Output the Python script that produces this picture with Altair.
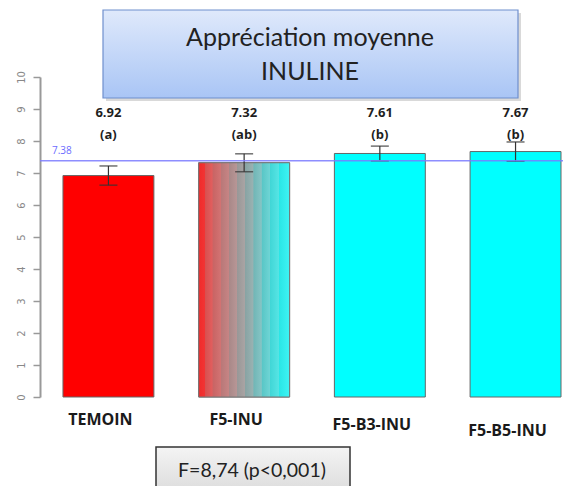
import altair as alt
import pandas as pd

categories = ["TEMOIN", "F5-INU", "F5-B3-INU", "F5-B5-INU"]
means = [6.92, 7.32, 7.61, 7.67]
errors = [0.30, 0.28, 0.23, 0.30]
letters = ["(a)", "(ab)", "(b)", "(b)"]
y_ticks = [0, 1, 2, 3, 4, 5, 6, 7, 8, 9, 10]
grand_mean = 7.38
title_lines = ["Appréciation moyenne", "INULINE"]
stat_text = "F=8,74 (p<0,001)"

df = pd.DataFrame({
    "cat": categories,
    "mean": means,
    "low": [m - e for m, e in zip(means, errors)],
    "high": [m + e for m, e in zip(means, errors)],
    "val": [f"{m:.2f}" for m in means],
    "letter": letters,
})

W, H = 523, 320

xscale = alt.Scale(domain=categories, paddingInner=0.33, paddingOuter=0.092, align=0.92)
yscale = alt.Scale(domain=[0, 10], nice=False, zero=True)

x_axis = alt.Axis(
    title=None, domain=False, ticks=False, labelAngle=0,
    labelFont="Open Sans", labelFontWeight="bold", labelFontSize=16, labelColor="#1a1a1a",
    labelBaseline="top", labelOffset=-8,
    labelPadding={"condition": [
        {"test": "datum.value == 'F5-B5-INU'", "value": 25},
        {"test": "datum.value == 'F5-B3-INU'", "value": 19},
    ], "value": 14},
)
x_enc = alt.X("cat:N", scale=xscale, sort=categories, axis=x_axis)
y_axis = alt.Axis(
    title=None, values=y_ticks, tickCount=11, grid=False, tickSize=7, tickColor="#999999",
    tickWidth=1.5, domainColor="#999999", domainWidth=2, labelAngle=270, labelColor="#888888",
    labelFontSize=10, labelFont="DejaVu Sans", labelPadding=7, labelOverlap=False,
)
y_enc = alt.Y("mean:Q", scale=yscale, axis=y_axis)

base = alt.Chart(df)

bars = base.mark_bar(stroke="#666666", strokeWidth=1).encode(
    x=x_enc, y=y_enc,
    color=alt.Color("cat:N", scale=alt.Scale(domain=categories,
                    range=["#ff0000", "#cccccc", "#00ffff", "#00ffff"]), legend=None),
)

stripe_stops = [
    (0.00, "#f02a2a"), (0.07, "#f23434"), (0.075, "#d85050"), (0.15, "#e25e5e"),
    (0.155, "#c86464"), (0.24, "#d27272"), (0.245, "#b87878"), (0.33, "#c68484"),
    (0.335, "#a88888"), (0.42, "#b89696"), (0.425, "#989898"), (0.51, "#aaa4a4"),
    (0.515, "#88a4a4"), (0.60, "#9ab2b2"), (0.605, "#70b6b6"), (0.69, "#86c4c4"),
    (0.695, "#58c6c6"), (0.78, "#6ed4d4"), (0.785, "#40d6d6"), (0.88, "#56e4e4"),
    (0.885, "#2ae6e6"), (1.00, "#3ef4f4"),
]
grad = alt.LinearGradient(
    gradient="linear", x1=0, x2=1, y1=0, y2=0,
    stops=[alt.GradientStop(offset=o, color=c) for o, c in stripe_stops],
)
grad_bar = base.transform_filter("datum.cat == 'F5-INU'").mark_bar(
    fill=grad, stroke="#777777", strokeWidth=1).encode(x=x_enc, y=y_enc)

err_rule = base.mark_rule(color="#333333", strokeWidth=1.2).encode(
    x=x_enc, y=alt.Y("low:Q", scale=yscale, axis=y_axis), y2="high:Q")
cap_low = base.mark_tick(color="#333333", thickness=1.5, size=18).encode(
    x=x_enc, y=alt.Y("low:Q", scale=yscale, axis=y_axis))
cap_high = base.mark_tick(color="#333333", thickness=1.5, size=18).encode(
    x=x_enc, y=alt.Y("high:Q", scale=yscale, axis=y_axis))

mean_df = pd.DataFrame({"m": [grand_mean], "lab": [f"{grand_mean:.2f}"]})
mean_rule = alt.Chart(mean_df).mark_rule(color="#7a7aff", strokeWidth=1.5, opacity=0.85).encode(
    y=alt.Y("m:Q", scale=yscale, axis=y_axis), x=alt.value(0), x2=alt.value(W))
mean_lab = alt.Chart(mean_df).mark_text(color="#6c6cff", fontSize=10, font="Open Sans",
                                        align="left", dy=-10).encode(
    y=alt.Y("m:Q", scale=yscale, axis=y_axis), x=alt.value(12), text="lab:N")

val_text = base.mark_text(font="Open Sans", fontWeight="bold", fontSize=13,
                          color="#1e1e1e").encode(x=x_enc, y=alt.value(36), text="val:N")
let_text = base.mark_text(font="Open Sans", fontWeight="bold", fontSize=13,
                          color="#1e1e1e").encode(x=x_enc, y=alt.value(58), text="letter:N")

# title box
box_df = pd.DataFrame({"t": [0]})
title_grad = alt.LinearGradient(
    gradient="linear", x1=0, x2=0, y1=0, y2=1,
    stops=[alt.GradientStop(offset=0, color="#dfe9fb"), alt.GradientStop(offset=1, color="#a9c5f5")],
)
title_shadow = alt.Chart(box_df).mark_rect(fill="#000000", opacity=0.15).encode(
    x=alt.value(66), x2=alt.value(481), y=alt.value(-64), y2=alt.value(24))
title_box = alt.Chart(box_df).mark_rect(fill=title_grad, stroke="#6f8fce", strokeWidth=1.2).encode(
    x=alt.value(63), x2=alt.value(478), y=alt.value(-67), y2=alt.value(21))
t1_df = pd.DataFrame({"line": [title_lines[0]]})
t2_df = pd.DataFrame({"line": [title_lines[1]]})
title_text1 = alt.Chart(t1_df).mark_text(font="Lato", fontSize=25, color="#222222",
                                         baseline="middle").encode(
    x=alt.value(270), y=alt.value(-39), text="line:N")
title_text2 = alt.Chart(t2_df).mark_text(font="Lato", fontSize=25, color="#222222",
                                         baseline="middle").encode(
    x=alt.value(270), y=alt.value(-5), text="line:N")

# stat box
stat_grad = alt.LinearGradient(
    gradient="linear", x1=0, x2=0, y1=0, y2=1,
    stops=[alt.GradientStop(offset=0, color="#f4f4f4"), alt.GradientStop(offset=1, color="#cfcfcf")],
)
stat_box = alt.Chart(box_df).mark_rect(fill=stat_grad, stroke="#333333", strokeWidth=1.5).encode(
    x=alt.value(116), x2=alt.value(310), y=alt.value(370), y2=alt.value(440))
stat_df = pd.DataFrame({"s": [stat_text]})
stat_lab = alt.Chart(stat_df).mark_text(font="Lato", fontSize=19.5, color="#222222",
                                        baseline="middle").encode(
    x=alt.value(212), y=alt.value(394), text="s:N")

chart = alt.layer(
    bars, grad_bar, err_rule, cap_low, cap_high, mean_rule, mean_lab,
    val_text, let_text, title_shadow, title_box, title_text1, title_text2, stat_box, stat_lab,
).properties(
    width=W, height=H,
    background="white",
    autosize=alt.AutoSizeParams(type="none"),
    padding={"left": 32, "top": 69, "right": 0, "bottom": 89},
).configure_view(stroke=None)

chart.save("out.html", embed_options={"renderer": "svg", "actions": False})
